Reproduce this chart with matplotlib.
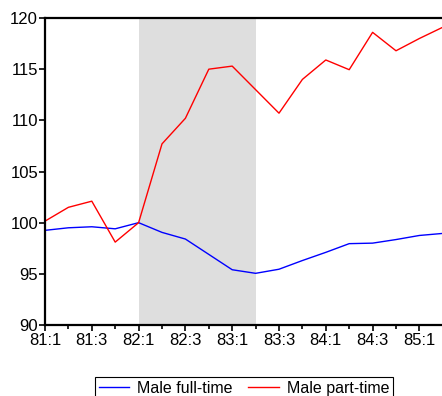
from matplotlib import pyplot as plt
import numpy as np

plt.rcParams['font.family'] = ['Liberation Sans', 'DejaVu Sans']

# quarterly index, 81:1 .. 85:2
quarters = [f"{y}:{q}" for y in range(81, 86) for q in range(1, 5)][:18]
full_time = [99.25, 99.5, 99.6, 99.4, 100.0, 99.05, 98.4, 96.9, 95.4,
             95.05, 95.45, 96.3, 97.1, 97.95, 98.0, 98.35, 98.75, 98.95]
part_time = [100.15, 101.5, 102.1, 98.1, 100.0, 107.7, 110.2, 115.0, 115.3,
             113.0, 110.7, 114.0, 115.9, 114.95, 118.6, 116.8, 118.0, 119.1]
shade = ("82:1", "83:2")


def main():
    fig = plt.figure(figsize=(4.42, 3.96), dpi=100)
    ax = fig.add_axes([0.1018, 0.1793, 0.9, 0.7752])

    x = np.arange(len(quarters))
    ax.axvspan(quarters.index(shade[0]), quarters.index(shade[1]),
               color='#dedede', lw=0, zorder=0)
    ax.plot(x, full_time, color='#0000ff', lw=1.0, label='Male full-time')
    ax.plot(x, part_time, color='#ff0000', lw=1.0, label='Male part-time')

    ax.set_xlim(0, len(quarters) - 1)
    ax.set_ylim(90, 120)
    ax.set_yticks(np.arange(90, 121, 5))
    # labelled ticks every half year, short unlabelled ticks in between
    ax.set_xticks(x[::2])
    ax.set_xticklabels(quarters[::2])
    ax.set_xticks(x[1::2], minor=True)

    for side in ['left', 'top', 'bottom']:
        ax.spines[side].set_linewidth(1.6)
    ax.spines['right'].set_visible(False)
    ax.tick_params(axis='y', length=4.5, width=1.2, pad=0.5, labelsize=12)
    ax.tick_params(axis='x', which='major', length=4.3, width=1.2, pad=1.5, labelsize=12)
    ax.tick_params(axis='x', which='minor', length=2.9, width=1.2)

    leg = fig.legend(loc='upper center', bbox_to_anchor=(0.552, 0.068), ncol=2,
                     fontsize=11.5, handlelength=1.9, columnspacing=1.0,
                     handletextpad=0.5, borderpad=0.25, fancybox=False,
                     framealpha=1, edgecolor='black')
    leg.get_frame().set_linewidth(0.8)

    fig.savefig('out.png', dpi=100)


if __name__ == '__main__':
    main()
